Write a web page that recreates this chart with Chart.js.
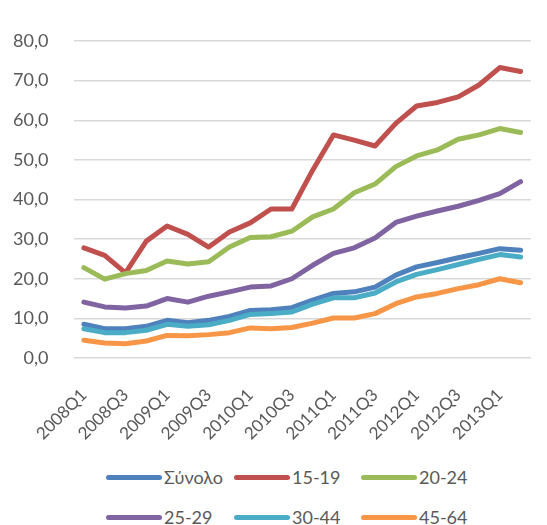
<!DOCTYPE html>
<html>
<head>
<meta charset="utf-8">
<script src="https://cdn.jsdelivr.net/npm/chart.js@4.4.1/dist/chart.umd.min.js"></script>
<style>
  body { margin: 0; background: #fff; overflow: hidden; width: 547px; height: 525px; position: relative; font-family: Lato, sans-serif; }
  #myChart { position: absolute; left: 0; top: 0; }
  .legend-item { position: absolute; display: flex; align-items: center; height: 24px; color: #595959; font-size: 18px; white-space: nowrap; }
  .legend-item .swatch { display: inline-block; width: 56px; height: 5px; border-radius: 3px; margin-right: 2px; }
</style>
</head>
<body>
<canvas id="myChart" width="554" height="445"></canvas>
<div id="legend"></div>
<script>
const quarters = ['2008Q1', '2008Q2', '2008Q3', '2008Q4', '2009Q1', '2009Q2', '2009Q3', '2009Q4',
  '2010Q1', '2010Q2', '2010Q3', '2010Q4', '2011Q1', '2011Q2', '2011Q3', '2011Q4',
  '2012Q1', '2012Q2', '2012Q3', '2012Q4', '2013Q1', '2013Q2'];

const total = [8.5, 7.4, 7.4, 8.0, 9.5, 8.9, 9.5, 10.5, 12.0, 12.2, 12.7, 14.6, 16.3, 16.7, 17.9, 20.9, 23.0, 24.1, 25.3, 26.4, 27.6, 27.2];
const age15to19 = [27.8, 25.9, 21.5, 29.5, 33.3, 31.2, 28.0, 31.8, 34.1, 37.6, 37.6, 47.4, 56.3, 55.0, 53.5, 59.2, 63.6, 64.5, 65.9, 68.9, 73.3, 72.3];
const age20to24 = [22.8, 19.9, 21.3, 22.1, 24.5, 23.7, 24.3, 28.0, 30.4, 30.6, 32.0, 35.6, 37.6, 41.7, 43.9, 48.3, 51.0, 52.5, 55.2, 56.3, 57.9, 56.9];
const age25to29 = [14.1, 12.9, 12.6, 13.1, 15.0, 14.1, 15.6, 16.7, 17.9, 18.2, 20.0, 23.4, 26.4, 27.8, 30.3, 34.2, 35.8, 37.1, 38.3, 39.8, 41.5, 44.5];
const age30to44 = [7.4, 6.4, 6.4, 7.0, 8.5, 8.0, 8.4, 9.5, 11.0, 11.2, 11.6, 13.6, 15.2, 15.2, 16.4, 19.2, 21.1, 22.3, 23.6, 24.9, 26.1, 25.5];
const age45to64 = [4.5, 3.8, 3.6, 4.3, 5.7, 5.6, 5.9, 6.4, 7.6, 7.4, 7.7, 8.8, 10.1, 10.1, 11.2, 13.7, 15.4, 16.3, 17.5, 18.5, 20.0, 19.0];

const yTicks = [0, 10, 20, 30, 40, 50, 60, 70, 80];

const series = [
  { label: 'Σύνολο', data: total, color: '#4F81BD' },
  { label: '15-19', data: age15to19, color: '#C0504D' },
  { label: '20-24', data: age20to24, color: '#9BBB59' },
  { label: '25-29', data: age25to29, color: '#8064A2' },
  { label: '30-44', data: age30to44, color: '#4BACC6' },
  { label: '45-64', data: age45to64, color: '#F79646' }
];

const ctx = document.getElementById('myChart').getContext('2d');

// eslint-disable-next-line no-undef
const chart = new Chart(ctx, {
  type: 'line',
  data: {
    labels: quarters,
    datasets: series.map((s, i) => ({
      label: s.label,
      data: s.data,
      borderColor: s.color,
      backgroundColor: s.color,
      borderWidth: 5,
      borderJoinStyle: 'round',
      borderCapStyle: 'round',
      pointRadius: 0,
      tension: 0,
      // later series on top, like the original
      order: series.length - i
    }))
  },
  options: {
    responsive: false,
    animation: false,
    devicePixelRatio: 1,
    layout: { padding: { top: 41, left: 0, right: 0, bottom: 0 } },
    plugins: {
      legend: { display: false },
      tooltip: { enabled: false }
    },
    scales: {
      x: {
        offset: true,
        grid: { display: false },
        border: { display: false },
        ticks: {
          autoSkip: false,
          minRotation: 45,
          maxRotation: 45,
          padding: 19,
          color: '#595959',
          font: { family: 'Lato', size: 17 },
          callback: function(value, index) {
            return index % 2 === 0 ? this.getLabelForValue(value) : '';
          }
        },
        afterFit: function(scale) { scale.height = 87; }
      },
      y: {
        min: yTicks[0],
        max: yTicks[yTicks.length - 1],
        afterBuildTicks: function(scale) {
          scale.ticks = yTicks.map(v => ({ value: v }));
        },
        grid: { color: '#D9D9D9', lineWidth: 1.5, drawTicks: false },
        border: { display: false },
        ticks: {
          padding: 25,
          color: '#595959',
          font: { family: 'Lato', size: 18 },
          callback: v => v.toFixed(1).replace('.', ',')
        },
        afterFit: function(scale) { scale.width = 73.5; }
      }
    }
  }
});

// legend in a 3 column grid, like the original
const legendBox = document.getElementById('legend');
const colLeft = [106, 234, 361];
const rowMid = [477, 517];
chart.data.datasets.forEach((ds, i) => {
  const item = document.createElement('div');
  item.className = 'legend-item';
  item.style.left = colLeft[i % 3] + 'px';
  item.style.top = (rowMid[Math.floor(i / 3)] - 12) + 'px';
  const sw = document.createElement('span');
  sw.className = 'swatch';
  sw.style.background = ds.borderColor;
  item.appendChild(sw);
  item.appendChild(document.createTextNode(ds.label));
  legendBox.appendChild(item);
});
</script>
</body>
</html>
